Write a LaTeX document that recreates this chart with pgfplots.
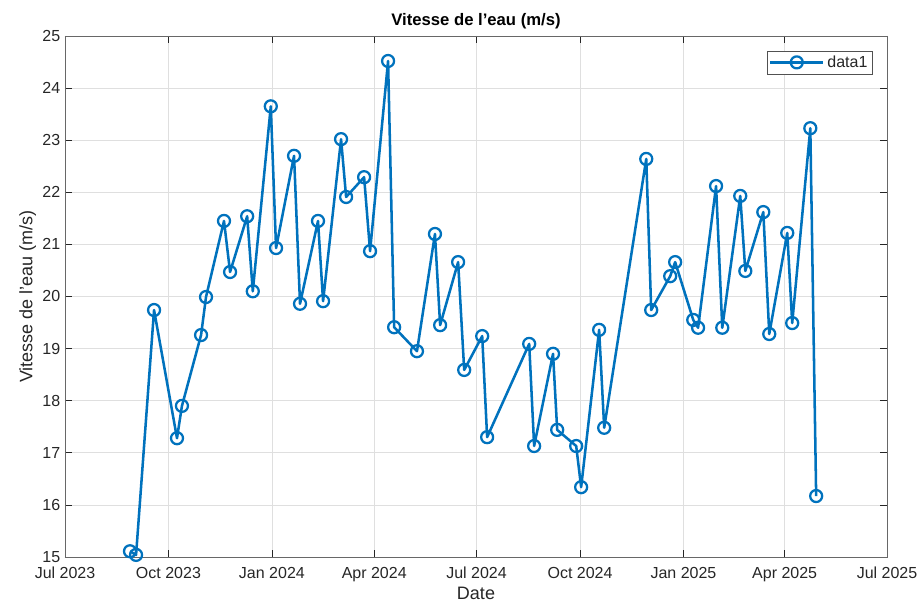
\documentclass[border=0pt]{standalone}
\usepackage{fontspec}
\setmainfont{Liberation Sans}
\usepackage{pgfplots}
\pgfplotsset{compat=1.18}
\definecolor{MBlue}{HTML}{0072BD}
\definecolor{MAxis}{HTML}{262626}
\definecolor{MGrid}{HTML}{DFDFDF}

% days since 1 Jul 2023
\pgfplotstableread{
d v
57.8 15.11
63.2 15.04
79.2 19.74
99.6 17.28
104.0 17.90
121.0 19.26
125.4 19.99
141.4 21.45
146.8 20.47
162.0 21.54
167.0 20.10
183.0 23.65
187.7 20.93
203.7 22.70
209.0 19.86
225.0 21.45
229.5 19.91
245.5 23.02
250.0 21.91
266.0 22.29
271.3 20.87
287.3 24.52
292.7 19.41
313.0 18.95
329.0 21.20
333.6 19.45
349.6 20.66
355.0 18.59
371.0 19.24
375.4 17.30
412.8 19.09
417.2 17.13
434.0 18.90
437.7 17.44
454.6 17.13
459.0 16.34
475.0 19.36
479.5 17.48
516.9 22.64
521.3 19.74
538.2 20.39
542.6 20.66
558.7 19.55
563.0 19.40
579.0 22.12
584.5 19.40
600.5 21.93
605.0 20.49
621.0 21.62
626.3 19.28
642.3 21.22
646.7 19.49
662.8 23.23
668.0 16.17
}\vitesse

\begin{document}
\begin{tikzpicture}
\begin{axis}[
    scale only axis,
    width=616.5pt,
    height=390.75pt,
    xmin=0, xmax=731,
    ymin=15, ymax=25,
    xtick={0,92,184,275,366,458,550,640,731},
    xticklabels={Jul 2023,Oct 2023,Jan 2024,Apr 2024,Jul 2024,Oct 2024,Jan 2025,Apr 2025,Jul 2025},
    ytick={15,16,...,25},
    /pgf/number format/assume math mode=true,
    tick label style={font=\fontsize{12}{14}\selectfont, text=MAxis},
    xticklabel style={yshift=-4pt},
    label style={font=\fontsize{13.5}{15}\selectfont, text=MAxis},
    title style={font=\fontsize{12.5}{14}\selectfont\bfseries, text=black, yshift=-4pt},
    title={Vitesse de l'eau (m/s)},
    xlabel={Date},
    ylabel={Vitesse de l'eau (m/s)},
    xlabel style={yshift=3pt},
    ylabel style={yshift=-2pt},
    axis line style={MAxis!70, line width=0.6pt},
    tick style={MAxis, line width=0.5pt},
    tick align=inside,
    tick pos=both,
    major tick length=5pt,
    grid=major,
    grid style={MGrid, line width=0.5pt},
    legend style={at={(1,1)}, anchor=north east, xshift=-11pt, yshift=-11pt,
        draw=MAxis!80, line width=0.4pt, font=\fontsize{12}{14}\selectfont,
        inner sep=1.5pt, text=MAxis},
    legend cell align=left,
    legend image code/.code={\draw[mark repeat=2,mark phase=2] plot coordinates {(0pt,0pt)(20pt,0pt)(40pt,0pt)};},
]
\addplot[MBlue, line width=1.9pt, line join=round, mark=o, mark size=4.5pt, mark options={line width=1.7pt}]
    table[x=d, y=v] {\vitesse};
\addlegendentry{data1}
\end{axis}
\pgfresetboundingbox
\path (-48.75pt,-36pt) rectangle (642.75pt,417.75pt);
\end{tikzpicture}
\end{document}
